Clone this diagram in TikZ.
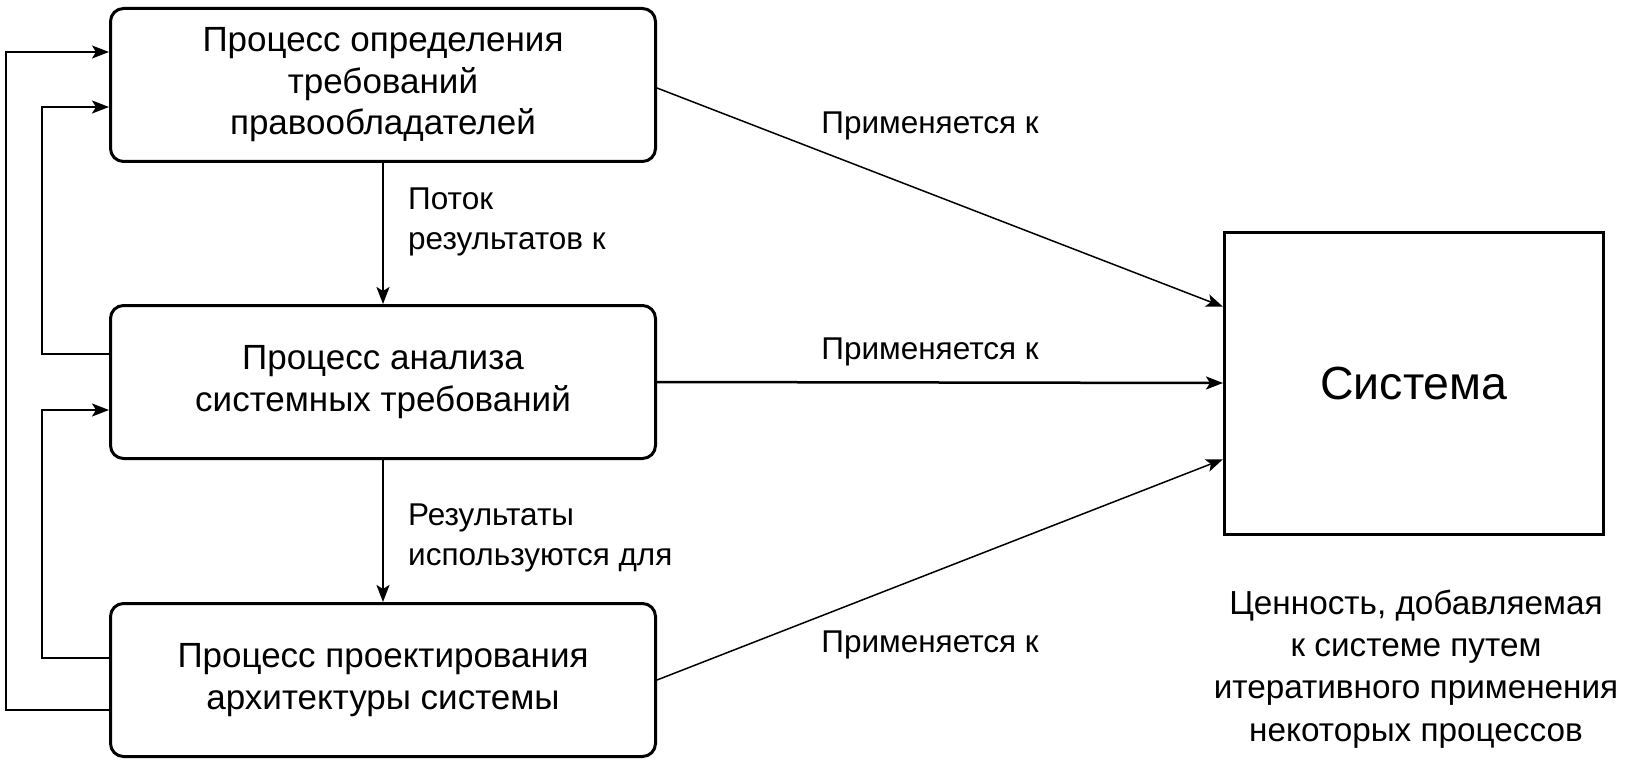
\documentclass[tikz,border=0pt]{standalone}
\usepackage{fontspec}
\setmainfont{Liberation Sans}
\usetikzlibrary{arrows.meta,calc}
\tikzset{
  proc/.style={draw, line width=3pt, rounded corners=13pt, minimum width=545pt, minimum height=153pt, align=center, font=\fontsize{35}{41.5}\selectfont, inner sep=0pt},
  sysbox/.style={draw, line width=3pt, minimum width=379pt, minimum height=302pt, font=\fontsize{46.5}{55}\selectfont, inner sep=0pt},
  lbl/.style={font=\fontsize{31.5}{40}\selectfont, inner sep=0pt},
  note/.style={font=\fontsize{33.3}{42.3}\selectfont, align=center, inner sep=0pt},
  arr/.style={-{Stealth[length=17pt,width=13pt,inset=4pt]}},
  thinline/.style={line width=1.5pt},
  midline/.style={line width=2.2pt},
}
\begin{document}
\begin{tikzpicture}[x=1pt,y=-1pt]
\useasboundingbox (0,0) rectangle (1642,765);
\node[proc] (b1) at (383,85) {Процесс определения\\требований\\правообладателей};
\node[proc] (b2) at (383,382) {Процесс анализа\\системных требований};
\node[proc] (b3) at (383,680) {Процесс проектирования\\архитектуры системы};
\node[sysbox] (sys) at (1414,383) {Система};

% vertical arrows
\draw[midline,arr] (b1) -- (b2);
\draw[midline,arr] (b2) -- (b3);

% to system
\draw[thinline,arr] ($(b1.east)+(0,3)$) -- ($(sys.north west)!0.25!(sys.south west)$);
\draw[line width=2.5pt,arr] (b2.east) -- (sys.west);
\draw[thinline,arr] (b3.east) -- ($(sys.north west)!0.75!(sys.south west)$);

% feedback lines
\coordinate (o1) at (6,710);
\coordinate (o2) at (6,52);
\draw[thinline,arr] ($(b3.west)+(0,30)$) -- (o1) -- (o2) -- (o2 -| b1.west);
\coordinate (i1) at (42,354);
\coordinate (i2) at (42,107);
\draw[midline,arr] ($(b2.west)+(0,-28)$) -- (i1) -- (i2) -- (i2 -| b1.west);
\coordinate (j1) at (42,658);
\coordinate (j2) at (42,410);
\draw[midline,arr] ($(b3.west)+(0,-22)$) -- (j1) -- (j2) -- (j2 -| b2.west);

% labels
\node[lbl, anchor=west, align=left] (l1) at (408,222) {Поток\\результатов к};
\node[lbl, anchor=west, align=left] (l2) at (408,538) {Результаты\\используются для};
\node[lbl] (a1) at (930,126) {Применяется к};
\node[lbl] (a2) at (930,352) {Применяется к};
\node[lbl] (a3) at (930,645) {Применяется к};

\node[note] (n) at (1416,669) {Ценность, добавляемая\\к системе путем\\итеративного применения\\некоторых процессов};
\end{tikzpicture}
\end{document}
